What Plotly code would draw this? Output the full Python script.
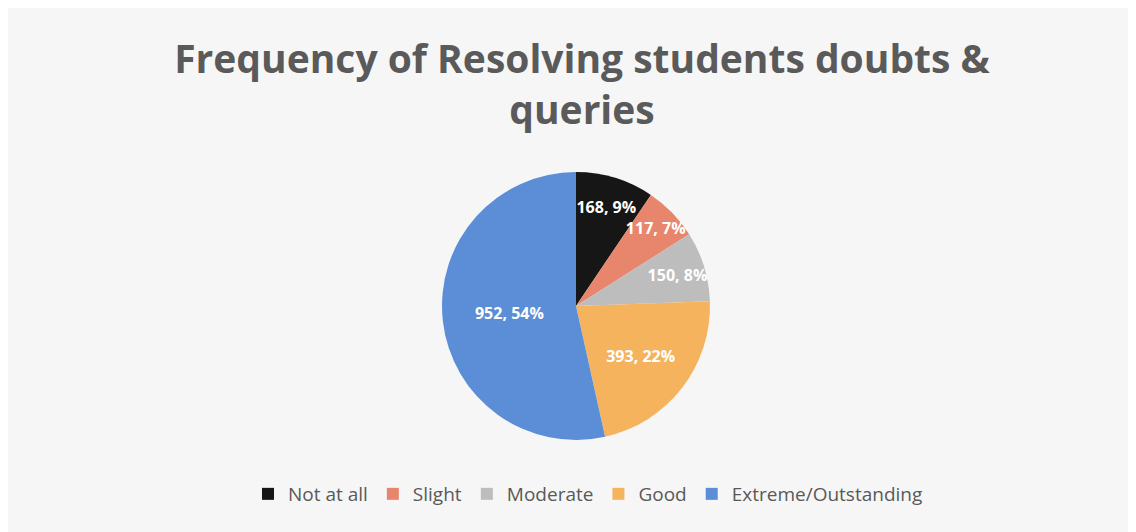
import plotly.graph_objects as go

categories = ["Not at all", "Slight", "Moderate", "Good", "Extreme/Outstanding"]
counts = [168, 117, 150, 393, 952]
percent_labels = ["9%", "7%", "8%", "22%", "54%"]
colors = ["#161616", "#e8866d", "#bdbdbd", "#f6b35e", "#5b8ed6"]

W, H = 1136, 532
# pie placement (plotly shifts the pie a few px, compensated here)
cx, cy, r = 568, 298, 134

fig = go.Figure(
    go.Pie(
        labels=categories,
        values=counts,
        customdata=percent_labels,
        texttemplate="%{value}, %{customdata}",
        textposition="inside",
        insidetextorientation="horizontal",
        textfont=dict(family="Open Sans", size=16, color="white", weight="bold"),
        marker=dict(colors=colors, line=dict(width=0)),
        sort=False,
        direction="clockwise",
        rotation=0,
        domain=dict(x=[(cx - r) / W, (cx + r) / W], y=[(H - cy - r) / H, (H - cy + r) / H]),
        hoverinfo="label+value+percent",
    )
)

fig.update_layout(
    width=W,
    height=H,
    margin=dict(l=0, r=0, t=0, b=0),
    paper_bgcolor="#f6f6f6",
    plot_bgcolor="#f6f6f6",
    uniformtext=dict(minsize=16, mode="show"),
    title=dict(
        text="Frequency of Resolving students doubts &<br>queries",
        x=574 / W,
        xanchor="center",
        y=1 - 65 / H,
        yanchor="middle",
        yref="container",
        font=dict(family="Open Sans", size=39, color="#5a5a5a", weight="bold"),
    ),
    legend=dict(
        orientation="h",
        x=580 / W,
        xanchor="center",
        y=1 - 467 / H,
        yanchor="top",
        font=dict(family="Open Sans", size=19, color="#595959"),
        itemwidth=30,
        traceorder="normal",
    ),
    showlegend=True,
)

fig.write_html("out.html")
